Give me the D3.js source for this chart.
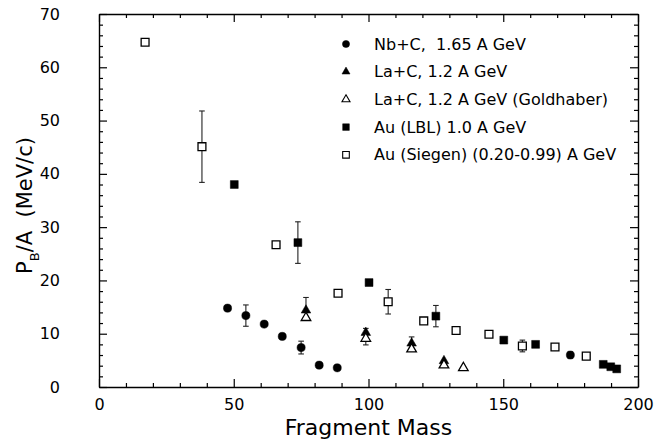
<!DOCTYPE html>
<html>
<head>
<meta charset="utf-8">
<script src="https://cdn.jsdelivr.net/npm/d3@7"></script>
<style>
  body { margin: 0; background: #fff; }
  svg text { font-family: "DejaVu Sans", Verdana, sans-serif; fill: #000; }
</style>
</head>
<body>
<div id="chart"></div>
<script>
// data: fragment mass vs P_B/A
var nbMass = [47.7, 54.5, 61.3, 68.0, 75.0, 81.7, 88.4, 174.9];
var nbP    = [14.8, 13.4, 11.8, 9.5, 7.4, 4.1, 3.6, 6.0];
var nbErr  = [0, 2.0, 0, 0, 1.2, 0, 0, 0.6];

var laMass    = [76.8, 99.0, 116.0, 128.0];
var laP       = [14.4, 10.2, 8.2, 4.9];
var laErrUp   = [2.4, 0.8, 1.2, 0];
var laErrDown = [1.4, 2.3, 1.2, 0];

var goldMass = [76.8, 99.0, 116.0, 128.0, 135.2];
var goldP    = [13.0, 9.1, 7.1, 4.1, 3.6];

var lblMass = [50.2, 73.8, 100.2, 125.0, 150.2, 162.0, 187.1, 189.9, 192.1];
var lblP    = [38.0, 27.1, 19.6, 13.3, 8.8, 8.0, 4.25, 3.8, 3.4];
var lblErr  = [0, 3.9, 0, 2.0, 0, 0, 0, 0, 0];

var siegMass = [17.1, 38.2, 65.7, 88.7, 107.3, 120.5, 132.5, 144.7, 157.1, 169.2, 180.8];
var siegP    = [64.7, 45.1, 26.7, 17.6, 16.0, 12.4, 10.6, 9.9, 7.7, 7.5, 5.8];
var siegErr  = [0, 6.7, 0, 0, 2.3, 0, 0, 0, 1.1, 0, 0];

var xTicks = [0, 50, 100, 150, 200];
var yTicks = [0, 10, 20, 30, 40, 50, 60, 70];

var legendLabels = [
  "Nb+C,  1.65 A GeV",
  "La+C, 1.2 A GeV",
  "La+C, 1.2 A GeV (Goldhaber)",
  "Au (LBL) 1.0 A GeV",
  "Au (Siegen) (0.20-0.99) A GeV"
];

// chart area
var svgWidth = 654, svgHeight = 440;
var margin = { top: 14, right: 16, bottom: 53, left: 99 };
var width = svgWidth - margin.left - margin.right;
var height = svgHeight - margin.top - margin.bottom;

var svg = d3.select("#chart").append("svg")
  .attr("width", svgWidth)
  .attr("height", svgHeight);

var g = svg.append("g")
  .attr("transform", `translate(${margin.left}, ${margin.top})`);

var x = d3.scaleLinear().domain([0, 200]).range([0, width]);
var y = d3.scaleLinear().domain([0, 70]).range([height, 0]);

var xMinor = d3.range(0, 201, 10).filter(v => v % 50 != 0);
var yMinor = d3.range(0, 71, 2).filter(v => v % 10 != 0);

function styleAxis(sel) {
  sel.selectAll("path").attr("stroke", "#000").attr("stroke-width", 1.4);
  sel.selectAll("line").attr("stroke", "#000").attr("stroke-width", 1.2);
  sel.selectAll("text").attr("font-size", 16).attr("fill", "#000");
}

// bottom axis with labels, ticks pointing inward
g.append("g")
  .attr("transform", `translate(0, ${height})`)
  .call(d3.axisBottom(x).tickValues(xTicks).tickSize(-8).tickPadding(12).tickSizeOuter(0))
  .call(styleAxis);
g.append("g")
  .attr("transform", `translate(0, ${height})`)
  .call(d3.axisBottom(x).tickValues(xMinor).tickSize(-4).tickFormat(""))
  .call(s => s.select(".domain").remove())
  .call(styleAxis);

// top axis
g.append("g")
  .call(d3.axisTop(x).tickValues(xTicks).tickSize(-8).tickFormat("").tickSizeOuter(0))
  .call(styleAxis);
g.append("g")
  .call(d3.axisTop(x).tickValues(xMinor).tickSize(-4).tickFormat(""))
  .call(s => s.select(".domain").remove())
  .call(styleAxis);

// left axis with labels
g.append("g")
  .call(d3.axisLeft(y).tickValues(yTicks).tickSize(-8).tickPadding(39).tickSizeOuter(0))
  .call(styleAxis);
g.append("g")
  .call(d3.axisLeft(y).tickValues(yMinor).tickSize(-4).tickFormat(""))
  .call(s => s.select(".domain").remove())
  .call(styleAxis);

// right axis
g.append("g")
  .attr("transform", `translate(${width}, 0)`)
  .call(d3.axisRight(y).tickValues(yTicks).tickSize(-8).tickFormat("").tickSizeOuter(0))
  .call(styleAxis);
g.append("g")
  .attr("transform", `translate(${width}, 0)`)
  .call(d3.axisRight(y).tickValues(yMinor).tickSize(-4).tickFormat(""))
  .call(s => s.select(".domain").remove())
  .call(styleAxis);

// axis titles
g.append("text")
  .attr("x", width / 2)
  .attr("y", height + 48)
  .attr("text-anchor", "middle")
  .attr("font-size", 22)
  .text("Fragment Mass");

var yTitle = g.append("text")
  .attr("transform", `translate(${-margin.left + 32}, ${height / 2 + 5}) rotate(-90)`)
  .attr("text-anchor", "middle")
  .attr("font-size", 21)
  .style("white-space", "pre");
yTitle.append("tspan").text("P");
yTitle.append("tspan").attr("font-size", 13).attr("dy", 7).text("B");
yTitle.append("tspan").attr("dy", -7).text("/A  (MeV/c)");

// error bars
function errorBars(mass, val, up, down) {
  var pts = mass.map((m, i) => ({ m: m, hi: val[i] + up[i], lo: val[i] - down[i] }))
    .filter(d => d.hi != d.lo);
  var eb = g.append("g").attr("stroke", "#222").attr("stroke-width", 1.1);
  eb.selectAll(".bar").data(pts).enter().append("line")
    .attr("x1", d => x(d.m)).attr("x2", d => x(d.m))
    .attr("y1", d => y(d.hi)).attr("y2", d => y(d.lo));
  eb.selectAll(".capHi").data(pts).enter().append("line")
    .attr("x1", d => x(d.m) - 2.8).attr("x2", d => x(d.m) + 2.8)
    .attr("y1", d => y(d.hi)).attr("y2", d => y(d.hi));
  eb.selectAll(".capLo").data(pts).enter().append("line")
    .attr("x1", d => x(d.m) - 2.8).attr("x2", d => x(d.m) + 2.8)
    .attr("y1", d => y(d.lo)).attr("y2", d => y(d.lo));
}

errorBars(nbMass, nbP, nbErr, nbErr);
errorBars(laMass, laP, laErrUp, laErrDown);
errorBars(lblMass, lblP, lblErr, lblErr);
errorBars(siegMass, siegP, siegErr, siegErr);

// marker shapes
var sym = {
  circle: d3.symbol().type(d3.symbolCircle).size(52),
  triangle: d3.symbol().type(d3.symbolTriangle).size(40),
  square: d3.symbol().type(d3.symbolSquare).size(62)
};

var series = [
  { mass: nbMass, val: nbP, shape: "circle", filled: true },
  { mass: laMass, val: laP, shape: "triangle", filled: true },
  { mass: goldMass, val: goldP, shape: "triangle", filled: false },
  { mass: lblMass, val: lblP, shape: "square", filled: true },
  { mass: siegMass, val: siegP, shape: "square", filled: false }
];

series.forEach(function(s) {
  var pts = s.mass.map((m, i) => ({ m: m, v: s.val[i] }));
  g.append("g").selectAll("path")
    .data(pts)
    .enter()
    .append("path")
    .attr("d", sym[s.shape])
    .attr("transform", d => `translate(${x(d.m)}, ${y(d.v)})`)
    .attr("fill", s.filled ? "#000" : "#fff")
    .attr("stroke", "#000")
    .attr("stroke-width", s.filled ? 0.5 : 1.3);
});

// legend
var legendSym = {
  circle: d3.symbol().type(d3.symbolCircle).size(40),
  triangle: d3.symbol().type(d3.symbolTriangle).size(28),
  square: d3.symbol().type(d3.symbolSquare).size(44)
};
var legend = g.append("g").attr("transform", "translate(247, 30)");
series.forEach(function(s, i) {
  var row = legend.append("g").attr("transform", `translate(0, ${i * 27.7})`);
  row.append("path")
    .attr("d", legendSym[s.shape])
    .attr("fill", s.filled ? "#000" : "#fff")
    .attr("stroke", "#000")
    .attr("stroke-width", s.filled ? 0.5 : 1.1);
  row.append("text")
    .attr("x", 28)
    .attr("y", 5.5)
    .attr("font-size", 16)
    .style("white-space", "pre")
    .text(legendLabels[i]);
});
</script>
</body>
</html>
